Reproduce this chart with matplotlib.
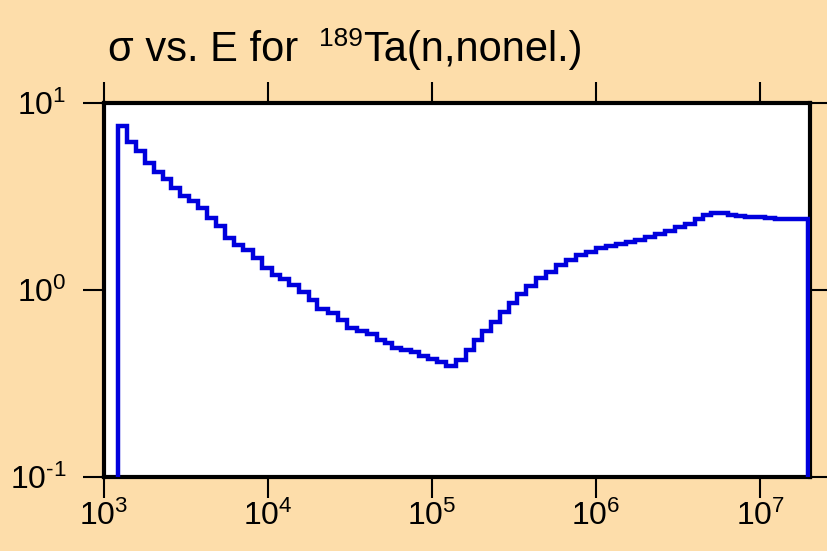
import matplotlib
matplotlib.use("Agg")
import matplotlib.pyplot as plt
import numpy as np

# bin edges (eV) and cross sections (b)
energy_edges = [1216, 1380, 1565, 1775, 2014, 2284, 2555, 2897, 3287, 3728,
                4229, 4797, 5440, 6171, 6998, 8051, 9131, 10504, 11748, 13511,
                15541, 17877, 19995, 23328, 26830, 30434, 35007, 40267, 46316, 51803,
                57138, 64804, 74540, 83367, 94557, 107250, 121650, 139930, 160950, 180030,
                201370, 228400, 259060, 293830, 328640, 372760, 428770, 493150, 567230, 652430,
                750430, 863160, 993000, 1.1425e6, 1.3137e6, 1.5112e6, 1.7385e6, 1.9996e6, 2.2998e6, 2.6453e6,
                3.0431e6, 3.5007e6, 4.0267e6, 4.5027e6, 5.0362e6, 6.3902e6, 7.1476e6, 8.1066e6, 9.3247e6, 1.0725e7,
                1.2336e7, 1.96e7]
sigma = [7.57, 6.2, 5.56, 4.8, 4.3, 3.91, 3.5, 3.18, 2.99, 2.73,
         2.42, 2.2, 1.90, 1.75, 1.63, 1.48, 1.31, 1.21, 1.14, 1.07,
         0.97, 0.885, 0.79, 0.75, 0.69, 0.63, 0.605, 0.58, 0.54, 0.52,
         0.49, 0.478, 0.464, 0.443, 0.427, 0.41, 0.394, 0.42, 0.478, 0.54,
         0.605, 0.676, 0.76, 0.85, 0.95, 1.05, 1.16, 1.25, 1.36, 1.45,
         1.54, 1.60, 1.67, 1.72, 1.76, 1.81, 1.85, 1.91, 1.99, 2.07,
         2.16, 2.25, 2.39, 2.52, 2.57, 2.53, 2.49, 2.47, 2.45, 2.42,
         2.39]

x_ticks = [1e3, 1e4, 1e5, 1e6, 1e7]
x_tick_labels = ["$10^{3}$", "$10^{4}$", "$10^{5}$", "$10^{6}$", "$10^{7}$"]
y_ticks = [1e-1, 1e0, 1e1]
y_tick_labels = ["$10^{\u20101}$", "$10^{0}$", "$10^{1}$"]
title_main = "σ vs. E for"
title_sup = "189"
title_rest = "Ta(n,nonel.)"

plt.rcParams["font.family"] = ["Liberation Sans", "DejaVu Sans"]
plt.rcParams["mathtext.fontset"] = "custom"
plt.rcParams["mathtext.rm"] = "Liberation Sans"
plt.rcParams["mathtext.it"] = "Liberation Sans"
plt.rcParams["mathtext.default"] = "regular"

bg = "#FDDDAA"
fig = plt.figure(figsize=(8.27, 5.51), dpi=100, facecolor=bg)
W, H = 827, 551
ax = fig.add_axes([104 / W, 1 - 477 / H, (809.5 - 104) / W, (477 - 103) / H])
ax.set_facecolor("white")
ax.set_xscale("log")
ax.set_yscale("log")

ax.stairs(sigma, energy_edges, baseline=1e-4, color="#0000DD", lw=3.2, zorder=3)

ax.set_xlim(1e3, 2e7)
ax.set_ylim(1e-1, 1e1)
ax.set_xticks(x_ticks)
ax.set_xticklabels(x_tick_labels)
ax.set_yticks(y_ticks)
ax.set_yticklabels(y_tick_labels)
ax.minorticks_off()
ax.tick_params(axis="both", which="major", direction="out", length=15, width=1.5,
               labelsize=23, color="black", top=True, right=True)
ax.tick_params(axis="x", pad=2)
ax.tick_params(axis="y", pad=12)
for s in ax.spines.values():
    s.set_linewidth(3)
    s.set_color("black")

# title with superscript
fs = 30
t1 = fig.text(108 / W, 1 - 61 / H, title_main, fontsize=fs, va="baseline", ha="left")
fig.canvas.draw()
r = fig.canvas.get_renderer()
bb = t1.get_window_extent(r)
t2 = fig.text((bb.x1 + 21) / W, 1 - 46 / H, title_sup, fontsize=fs * 0.63, va="baseline", ha="left")
bb2 = t2.get_window_extent(r)
t3 = fig.text(bb2.x1 / W, 1 - 61 / H, title_rest, fontsize=fs, va="baseline", ha="left")

fig.savefig("out.png", dpi=100, facecolor=bg)
